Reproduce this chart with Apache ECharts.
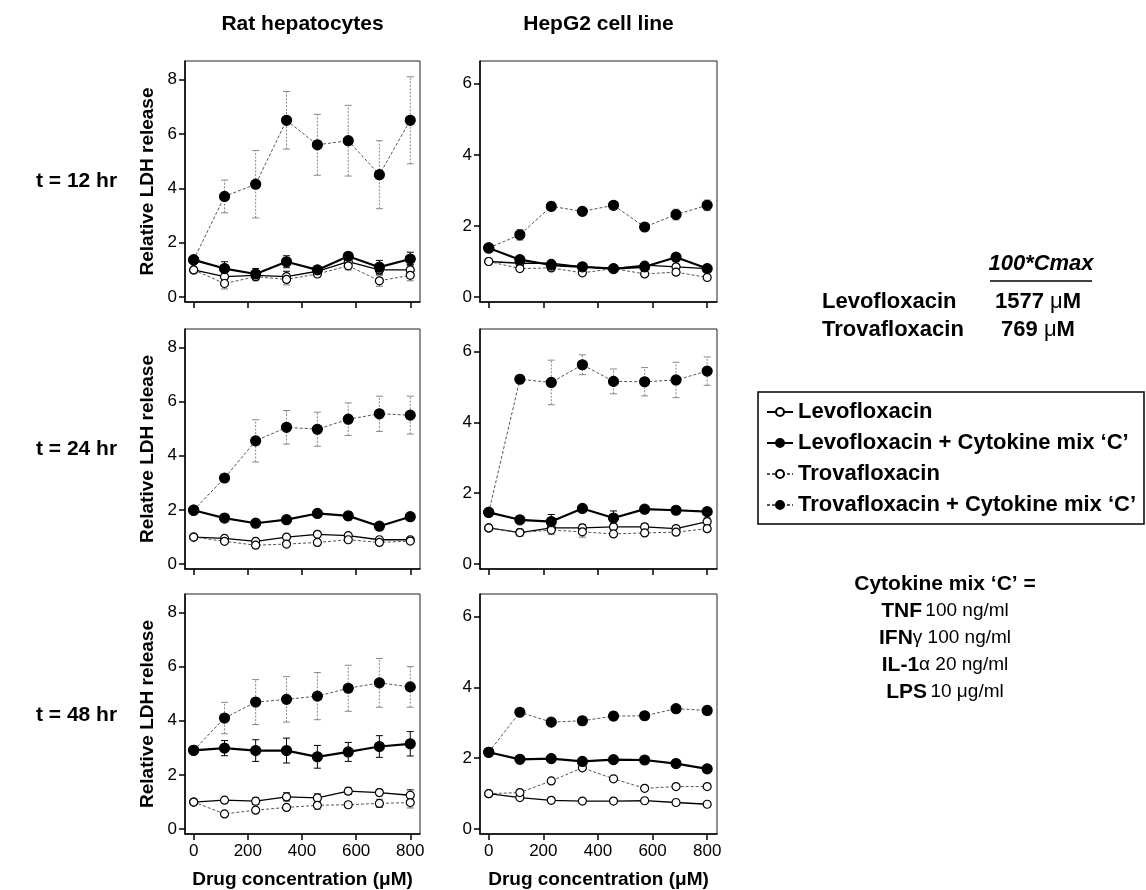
<!DOCTYPE html>
<html><head><meta charset="utf-8">
<script src="https://cdn.jsdelivr.net/npm/echarts@6/dist/echarts.min.js"></script>
<style>html,body{margin:0;padding:0;background:#fff}#c{width:1146px;height:890px}</style>
</head><body><div id="c"></div>
<script>
// ---------- data ----------
const conc = [0, 114, 229, 343, 457, 571, 686, 800];
const xTicks = [0, 200, 400, 600, 800];
const yTicksRat = [0, 2, 4, 6, 8];
const yTicksHep = [0, 2, 4, 6];
const seriesNames = ['Levofloxacin', 'Levofloxacin + Cytokine mix \u2018C\u2019', 'Trovafloxacin', 'Trovafloxacin + Cytokine mix \u2018C\u2019'];
const columnTitles = ['Rat hepatocytes', 'HepG2 cell line'];
const rowTitles = ['t = 12 hr', 't = 24 hr', 't = 48 hr'];
const yName = 'Relative LDH release';
const xName = 'Drug concentration (\u03bcM)';

// Rat hepatocytes, 12 hr
const rat12Levo = [1.0, 0.75, 0.8, 0.75, 0.95, 1.3, 1.0, 1.0];
const rat12LevoErr = [0, 0.15, 0.15, 0.2, 0.1, 0.15, 0.15, 0.2];
const rat12LevoC = [1.37, 1.05, 0.85, 1.3, 1.0, 1.5, 1.1, 1.4];
const rat12LevoCErr = [0, 0.25, 0.2, 0.22, 0.1, 0.12, 0.25, 0.25];
const rat12Trova = [1.0, 0.5, 0.75, 0.65, 0.85, 1.15, 0.6, 0.8];
const rat12TrovaErr = [0, 0.2, 0.15, 0.2, 0.1, 0.15, 0.2, 0.2];
const rat12TrovaC = [1.37, 3.7, 4.15, 6.5, 5.6, 5.75, 4.5, 6.5];
const rat12TrovaCErr = [0, 0.6, 1.24, 1.06, 1.12, 1.3, 1.25, 1.6];
// HepG2, 12 hr
const hep12Levo = [1.0, 0.95, 0.95, 0.85, 0.8, 0.9, 0.85, 0.8];
const hep12LevoErr = [0, 0.05, 0.05, 0.05, 0.04, 0.05, 0.05, 0.05];
const hep12LevoC = [1.38, 1.05, 0.9, 0.85, 0.8, 0.85, 1.12, 0.8];
const hep12LevoCErr = [0, 0.06, 0.05, 0.05, 0.04, 0.05, 0.06, 0.05];
const hep12Trova = [1.0, 0.8, 0.82, 0.68, 0.8, 0.65, 0.7, 0.55];
const hep12TrovaErr = [0, 0.05, 0.05, 0.04, 0.04, 0.04, 0.05, 0.04];
const hep12TrovaC = [1.38, 1.75, 2.55, 2.41, 2.58, 1.97, 2.32, 2.58];
const hep12TrovaCErr = [0, 0.15, 0.12, 0.1, 0.05, 0.06, 0.15, 0.15];
// Rat hepatocytes, 24 hr
const rat24Levo = [1.0, 0.95, 0.84, 1.0, 1.1, 1.05, 0.9, 0.9];
const rat24LevoErr = [0, 0.05, 0.05, 0.05, 0.05, 0.06, 0.05, 0.05];
const rat24LevoC = [1.99, 1.7, 1.51, 1.64, 1.87, 1.78, 1.4, 1.75];
const rat24LevoCErr = [0, 0.1, 0.05, 0.05, 0.08, 0.15, 0.06, 0.12];
const rat24Trova = [1.0, 0.84, 0.7, 0.74, 0.8, 0.9, 0.8, 0.85];
const rat24TrovaErr = [0, 0.05, 0.05, 0.05, 0.05, 0.05, 0.05, 0.05];
const rat24TrovaC = [1.99, 3.18, 4.55, 5.05, 4.98, 5.35, 5.55, 5.5];
const rat24TrovaCErr = [0, 0.05, 0.78, 0.62, 0.63, 0.6, 0.65, 0.7];
// HepG2, 24 hr
const hep24Levo = [1.02, 0.89, 1.02, 1.02, 1.05, 1.05, 1.0, 1.2];
const hep24LevoErr = [0, 0.05, 0.1, 0.1, 0.08, 0.08, 0.08, 0.1];
const hep24LevoC = [1.46, 1.25, 1.2, 1.57, 1.3, 1.55, 1.52, 1.48];
const hep24LevoCErr = [0, 0.05, 0.2, 0.05, 0.2, 0.08, 0.05, 0.08];
const hep24Trova = [1.02, 0.89, 0.96, 0.91, 0.85, 0.88, 0.9, 1.0];
const hep24TrovaErr = [0, 0.1, 0.12, 0.15, 0.05, 0.05, 0.05, 0.08];
const hep24TrovaC = [1.46, 5.22, 5.13, 5.63, 5.16, 5.15, 5.2, 5.45];
const hep24TrovaCErr = [0, 0.12, 0.63, 0.28, 0.35, 0.4, 0.5, 0.4];
// Rat hepatocytes, 48 hr
const rat48Levo = [1.0, 1.07, 1.03, 1.19, 1.15, 1.4, 1.35, 1.25];
const rat48LevoErr = [0, 0.05, 0.12, 0.15, 0.15, 0.12, 0.12, 0.2];
const rat48LevoC = [2.91, 2.99, 2.9, 2.9, 2.67, 2.85, 3.05, 3.15];
const rat48LevoCErr = [0, 0.28, 0.4, 0.46, 0.42, 0.35, 0.4, 0.45];
const rat48Trova = [1.0, 0.56, 0.7, 0.8, 0.88, 0.9, 0.95, 0.98];
const rat48TrovaErr = [0, 0.05, 0.05, 0.08, 0.15, 0.1, 0.15, 0.2];
const rat48TrovaC = [2.91, 4.1, 4.69, 4.79, 4.91, 5.2, 5.4, 5.25];
const rat48TrovaCErr = [0, 0.58, 0.83, 0.84, 0.87, 0.85, 0.9, 0.75];
// HepG2, 48 hr
const hep48Levo = [1.0, 0.89, 0.81, 0.79, 0.79, 0.8, 0.75, 0.7];
const hep48LevoErr = [0, 0.03, 0.03, 0.03, 0.03, 0.03, 0.03, 0.03];
const hep48LevoC = [2.17, 1.97, 1.99, 1.91, 1.96, 1.95, 1.85, 1.7];
const hep48LevoCErr = [0, 0.04, 0.05, 0.07, 0.05, 0.05, 0.04, 0.04];
const hep48Trova = [1.0, 1.03, 1.36, 1.73, 1.42, 1.15, 1.2, 1.2];
const hep48TrovaErr = [0, 0.03, 0.03, 0.04, 0.03, 0.03, 0.03, 0.03];
const hep48TrovaC = [2.17, 3.3, 3.02, 3.06, 3.19, 3.2, 3.4, 3.35];
const hep48TrovaCErr = [0, 0.04, 0.07, 0.12, 0.12, 0.1, 0.05, 0.12];

const cmaxLabels = ['Levofloxacin', 'Trovafloxacin'];
const cmaxValues = ['1577', '769'];

// ---------- layout ----------
const FONT = '"Liberation Sans", Arial, Helvetica, sans-serif';
const panels = [
  [[rat12Levo, rat12LevoErr], [rat12LevoC, rat12LevoCErr], [rat12Trova, rat12TrovaErr], [rat12TrovaC, rat12TrovaCErr]],
  [[hep12Levo, hep12LevoErr], [hep12LevoC, hep12LevoCErr], [hep12Trova, hep12TrovaErr], [hep12TrovaC, hep12TrovaCErr]],
  [[rat24Levo, rat24LevoErr], [rat24LevoC, rat24LevoCErr], [rat24Trova, rat24TrovaErr], [rat24TrovaC, rat24TrovaCErr]],
  [[hep24Levo, hep24LevoErr], [hep24LevoC, hep24LevoCErr], [hep24Trova, hep24TrovaErr], [hep24TrovaC, hep24TrovaCErr]],
  [[rat48Levo, rat48LevoErr], [rat48LevoC, rat48LevoCErr], [rat48Trova, rat48TrovaErr], [rat48TrovaC, rat48TrovaCErr]],
  [[hep48Levo, hep48LevoErr], [hep48LevoC, hep48LevoCErr], [hep48Trova, hep48TrovaErr], [hep48TrovaC, hep48TrovaCErr]]
];
const colLeft = [185, 480], colWidth = [235, 237];
const rowTop = [61, 329, 594], rowHeight = [241, 240, 242];

const styles = [
  { size: 8, fill: '#fff', border: '#000', line: '#000', width: 1.3, type: 'solid', err: '#000', errType: 'solid' },
  { size: 10, fill: '#000', border: '#000', line: '#000', width: 2.2, type: 'solid', err: '#000', errType: 'solid' },
  { size: 8, fill: '#fff', border: '#000', line: '#555', width: 1, type: [3, 2], err: '#777', errType: 'solid' },
  { size: 10, fill: '#000', border: '#000', line: '#555', width: 1, type: [3, 2], err: '#888', errType: [2, 1.5] }
];

const grids = [], xAxes = [], yAxes = [], series = [];
panels.forEach((panel, i) => {
  const row = Math.floor(i / 2), col = i % 2;
  grids.push({ left: colLeft[col], top: rowTop[row], width: colWidth[col], height: rowHeight[row],
    show: true, borderColor: '#222', borderWidth: 1, backgroundColor: 'transparent' });
  const bottom = row === 2;
  xAxes.push({ type: 'value', gridIndex: i, min: -32, max: 836,
    axisLine: { show: true, onZero: false, lineStyle: { color: '#000', width: 1.5 } },
    axisTick: { show: true, length: 6, customValues: xTicks, lineStyle: { color: '#000', width: 1.5 } },
    axisLabel: { show: bottom, customValues: xTicks, fontSize: 17, color: '#000', fontFamily: FONT, margin: 9 },
    splitLine: { show: false },
    name: bottom ? xName : '', nameLocation: 'middle', nameGap: 36,
    nameTextStyle: { fontSize: 19, fontWeight: 'bold', color: '#000', fontFamily: FONT } });
  const rat = col === 0;
  const yt = rat ? yTicksRat : yTicksHep;
  yAxes.push({ type: 'value', gridIndex: i, min: rat ? -0.18 : -0.14, max: rat ? 8.68 : 6.64,
    axisLine: { show: true, onZero: false, lineStyle: { color: '#000', width: 1.5 } },
    axisTick: { show: true, length: 6, customValues: yt, lineStyle: { color: '#000', width: 1.5 } },
    axisLabel: { show: true, customValues: yt, fontSize: 17, color: '#000', fontFamily: FONT, margin: 8 },
    splitLine: { show: false },
    name: rat ? yName : '', nameLocation: 'middle', nameGap: 28, nameRotate: 90,
    nameTextStyle: { fontSize: 19, fontWeight: 'bold', color: '#000', fontFamily: FONT } });
  panel.forEach((pair, s) => {
    const vals = pair[0], errs = pair[1], st = styles[s];
    series.push({
      type: 'custom', xAxisIndex: i, yAxisIndex: i, z: 1, silent: true,
      encode: { x: 0, y: [1, 2] },
      data: conc.map((x, k) => [x, vals[k] - errs[k], vals[k] + errs[k]]).filter(d => d[2] > d[1]),
      renderItem: (params, api) => {
        const x = api.value(0);
        const lo = api.coord([x, api.value(1)]);
        const hi = api.coord([x, api.value(2)]);
        const w = 3.5;
        const ls = { stroke: st.err, lineWidth: 1 };
        const lsv = { stroke: st.err, lineWidth: 1, lineDash: st.errType === 'solid' ? null : st.errType };
        return { type: 'group', children: [
          { type: 'line', shape: { x1: lo[0], y1: lo[1], x2: hi[0], y2: hi[1] }, style: lsv },
          { type: 'line', shape: { x1: lo[0] - w, y1: lo[1], x2: lo[0] + w, y2: lo[1] }, style: ls },
          { type: 'line', shape: { x1: hi[0] - w, y1: hi[1], x2: hi[0] + w, y2: hi[1] }, style: ls }
        ] };
      }
    });
    series.push({
      type: 'line', name: seriesNames[s], xAxisIndex: i, yAxisIndex: i, z: 3 + (s % 2),
      data: conc.map((x, k) => [x, vals[k]]),
      symbol: 'circle', symbolSize: st.size, showSymbol: true,
      itemStyle: { color: st.fill, borderColor: st.border, borderWidth: 1.2 },
      lineStyle: { color: st.line, width: st.width, type: st.type },
      emphasis: { disabled: true }
    });
  });
});

const graphic = [];
const tStyle = (extra) => Object.assign({ fill: '#000', fontFamily: FONT, fontWeight: 'bold', fontSize: 21 }, extra);
columnTitles.forEach((t, c) => graphic.push({ type: 'text', x: colLeft[c] + colWidth[c] / 2, y: 24,
  style: tStyle({ text: t, textAlign: 'center', textVerticalAlign: 'middle' }) }));
rowTitles.forEach((t, r) => graphic.push({ type: 'text', x: 36, y: rowTop[r] + rowHeight[r] / 2,
  style: tStyle({ text: t, textAlign: 'left', textVerticalAlign: 'middle' }) }));
// 100*Cmax table
graphic.push({ type: 'text', x: 1041, y: 264, style: tStyle({ text: '100*Cmax', fontStyle: 'italic', fontSize: 22, textAlign: 'center', textVerticalAlign: 'middle' }) });
graphic.push({ type: 'line', shape: { x1: 990, y1: 281, x2: 1092, y2: 281 }, style: { stroke: '#000', lineWidth: 1.5 } });
cmaxLabels.forEach((t, k) => {
  graphic.push({ type: 'text', x: 822, y: 302 + 28 * k, style: tStyle({ text: t, fontSize: 22, textAlign: 'left', textVerticalAlign: 'middle' }) });
  graphic.push({ type: 'text', x: 1038, y: 302 + 28 * k, style: {
    text: '{b|' + cmaxValues[k] + ' }{m|\u03bc}{b|M}', textAlign: 'center', textVerticalAlign: 'middle',
    rich: { b: { fontFamily: FONT, fontWeight: 'bold', fontSize: 22, fill: '#000' },
            m: { fontFamily: FONT, fontSize: 22, fill: '#000' } } } });
});
// legend box
graphic.push({ type: 'rect', shape: { x: 758, y: 392, width: 386, height: 132 }, style: { fill: 'none', stroke: '#000', lineWidth: 1.5 } });
// cytokine block
const richSty = { b: { fontFamily: FONT, fontWeight: 'bold', fontSize: 21, fill: '#000' },
                  n: { fontFamily: FONT, fontSize: 19, fill: '#000' } };
const cytoLines = [
  '{b|Cytokine mix \u2018C\u2019 =}',
  '{b|TNF} {n|100 ng/ml}',
  '{b|IFN}{n|\u03b3 100 ng/ml}',
  '{b|IL-1}{n|\u03b1 20 ng/ml}',
  '{b|LPS} {n|10 \u03bcg/ml}'
];
cytoLines.forEach((t, k) => graphic.push({ type: 'text', x: 945, y: 584 + 27 * k,
  style: { text: t, rich: richSty, textAlign: 'center', textVerticalAlign: 'middle' } }));

const chart = echarts.init(document.getElementById('c'), null, { renderer: 'canvas' });
chart.setOption({
  animation: false,
  backgroundColor: '#fff',
  grid: grids, xAxis: xAxes, yAxis: yAxes, series: series,
  legend: { data: seriesNames, orient: 'vertical', left: 766, top: 401, itemWidth: 26, itemHeight: 10, itemGap: 9, padding: 0,
    textStyle: { fontSize: 22, fontWeight: 'bold', color: '#000', fontFamily: FONT }, selectedMode: false },
  graphic: graphic
});
</script></body></html>
